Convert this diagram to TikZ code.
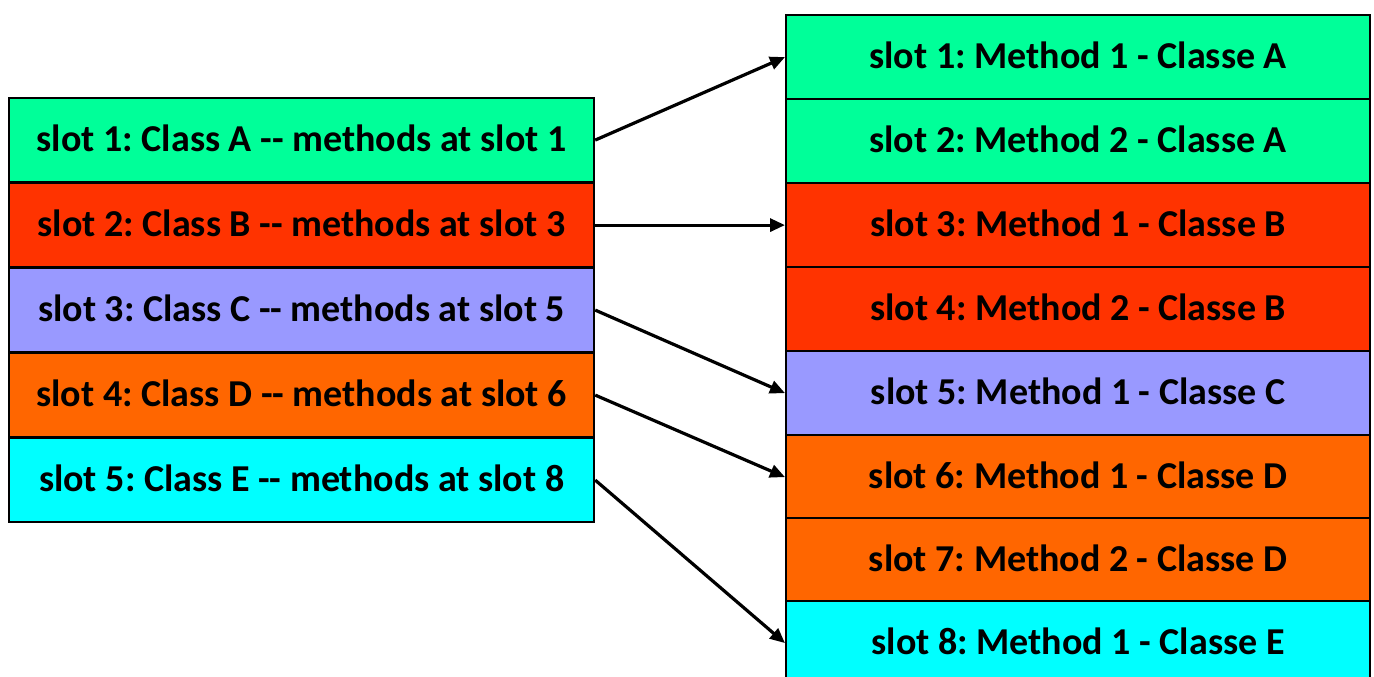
\documentclass[tikz,border=0pt]{standalone}
\usepackage{fontspec}
\setmainfont{Carlito}
\usetikzlibrary{arrows.meta}
\definecolor{cA}{RGB}{0,255,153}
\definecolor{cB}{RGB}{255,51,0}
\definecolor{cC}{RGB}{153,153,255}
\definecolor{cD}{RGB}{255,102,0}
\definecolor{cE}{RGB}{0,255,255}
\tikzset{
  slotbox/.style={draw=black, line width=2.2pt, anchor=north west,
    minimum height=84pt, inner sep=0pt, text depth=3pt,
    font=\fontsize{38}{44}\selectfont\bfseries\frenchspacing},
  leftbox/.style={slotbox, minimum width=585pt},
  rightbox/.style={slotbox, minimum width=584pt},
  link/.style={line width=3.2pt, -{Triangle[length=15pt,width=13pt]}}
}
\begin{document}
\begin{tikzpicture}[x=1pt,y=-1pt]
\useasboundingbox (0,0) rectangle (1374,677);
% class table
\node[leftbox, fill=cA] (c1) at (8,97)  {slot 1: Class A -{}- methods at slot 1};
\node[leftbox, fill=cB] (c2) at (8,182) {slot 2: Class B -{}- methods at slot 3};
\node[leftbox, fill=cC] (c3) at (8,267) {slot 3: Class C -{}- methods at slot 5};
\node[leftbox, fill=cD] (c4) at (8,352) {slot 4: Class D -{}- methods at slot 6};
\node[leftbox, fill=cE] (c5) at (8,437) {slot 5: Class E -{}- methods at slot 8};
% method table
\node[rightbox, fill=cA] (m1) at (785,14)  {slot 1: Method 1 - Classe A};
\node[rightbox, fill=cA] (m2) at (785,98)  {slot 2: Method 2 - Classe A};
\node[rightbox, fill=cB] (m3) at (785,182) {slot 3: Method 1 - Classe B};
\node[rightbox, fill=cB] (m4) at (785,266) {slot 4: Method 2 - Classe B};
\node[rightbox, fill=cC] (m5) at (785,350) {slot 5: Method 1 - Classe C};
\node[rightbox, fill=cD] (m6) at (785,434) {slot 6: Method 1 - Classe D};
\node[rightbox, fill=cD] (m7) at (785,517) {slot 7: Method 2 - Classe D};
\node[rightbox, fill=cE] (m8) at (785,600) {slot 8: Method 1 - Classe E};
% links from classes to their first method
\draw[link] (c1.east) -- (m1.west);
\draw[link] (c2.east) -- (m3.west);
\draw[link] (c3.east) -- (m5.west);
\draw[link] (c4.east) -- (m6.west);
\draw[link] (c5.east) -- (m8.west);
\end{tikzpicture}
\end{document}
